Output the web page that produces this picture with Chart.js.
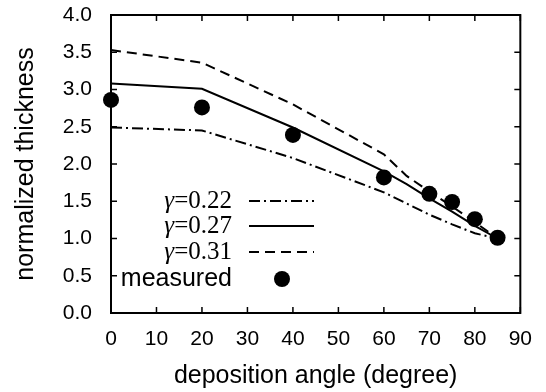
<!DOCTYPE html>
<html>
<head>
<meta charset="utf-8">
<script src="https://cdn.jsdelivr.net/npm/chart.js@4.4.1/dist/chart.umd.min.js"></script>
<style>
  html, body { margin: 0; padding: 0; background: #fff; }
  #wrap { width: 546px; height: 392px; }
</style>
</head>
<body>
<div id="wrap"><canvas id="c" width="546" height="392"></canvas></div>
<script>
// ---- data ----
const angles = [0, 20, 40, 60, 65, 70, 75, 80, 85];
const gamma022 = [2.49, 2.45, 2.08, 1.62, 1.47, 1.32, 1.19, 1.07, 1.00];
const gamma027 = [3.08, 3.01, 2.49, 1.90, 1.73, 1.54, 1.36, 1.17, 1.00];
const gamma031 = [3.53, 3.36, 2.80, 2.13, 1.84, 1.63, 1.43, 1.22, 1.00];
const measuredAngles = [0, 20, 40, 60, 70, 75, 80, 85];
const measured = [2.86, 2.76, 2.39, 1.82, 1.60, 1.49, 1.26, 1.01];
const seriesLabels = ['γ=0.22', 'γ=0.27', 'γ=0.31', 'measured'];
const xTitle = 'deposition angle (degree)';
const yTitle = 'normalized thickness';

const toXY = (xs, ys) => xs.map((x, i) => ({ x: x, y: ys[i] }));

const frameAndTicks = {
  id: 'frameAndTicks',
  afterDraw(chart) {
    const { ctx, chartArea: a, scales } = chart;
    ctx.save();
    ctx.strokeStyle = '#000';
    ctx.lineWidth = 2;
    ctx.strokeRect(a.left, a.top, a.right - a.left, a.bottom - a.top);
    ctx.lineWidth = 1.5;
    const L = 6;
    scales.x.ticks.forEach(t => {
      const px = scales.x.getPixelForValue(t.value);
      ctx.beginPath();
      ctx.moveTo(px, a.bottom); ctx.lineTo(px, a.bottom - L);
      ctx.moveTo(px, a.top); ctx.lineTo(px, a.top + L);
      ctx.stroke();
    });
    scales.y.ticks.forEach(t => {
      const py = scales.y.getPixelForValue(t.value);
      ctx.beginPath();
      ctx.moveTo(a.left, py); ctx.lineTo(a.left + L, py);
      ctx.moveTo(a.right, py); ctx.lineTo(a.right - L, py);
      ctx.stroke();
    });
    ctx.restore();
  }
};

const customLegend = {
  id: 'customLegend',
  afterDraw(chart) {
    const { ctx } = chart;
    const textRight = 232, lineX0 = 249, lineX1 = 314;
    const rowsY = [201, 226, 252, 279];
    ctx.save();
    ctx.textBaseline = 'middle';
    chart.data.datasets.forEach((ds, i) => {
      const y = rowsY[i];
      ctx.fillStyle = '#000';
      if (ds.showLine) {
        const label = ds.label; // "γ=0.xx"
        const greek = label.charAt(0);
        const rest = label.slice(1);
        ctx.font = '25px "Liberation Serif", "DejaVu Serif", serif';
        const wRest = ctx.measureText(rest).width;
        ctx.textAlign = 'right';
        ctx.fillText(rest, textRight, y);
        ctx.font = 'italic 25px "Liberation Serif", "DejaVu Serif", serif';
        ctx.fillText(greek, textRight - wRest, y);
        ctx.strokeStyle = ds.borderColor;
        ctx.lineWidth = ds.borderWidth;
        ctx.setLineDash(ds.borderDash || []);
        ctx.beginPath();
        ctx.moveTo(lineX0, y); ctx.lineTo(lineX1, y);
        ctx.stroke();
        ctx.setLineDash([]);
      } else {
        ctx.font = '25px "Liberation Sans", Arial, sans-serif';
        ctx.textAlign = 'right';
        ctx.fillText(ds.label, textRight, y);
        ctx.beginPath();
        ctx.arc(282, y, ds.pointRadius, 0, Math.PI * 2);
        ctx.fill();
      }
    });
    ctx.restore();
  }
};

new Chart(document.getElementById('c'), {
  type: 'scatter',
  data: {
    datasets: [
      { label: seriesLabels[0], data: toXY(angles, gamma022), showLine: true, borderColor: '#000', borderWidth: 2, borderDash: [11, 4, 2, 4], pointRadius: 0, fill: false },
      { label: seriesLabels[1], data: toXY(angles, gamma027), showLine: true, borderColor: '#000', borderWidth: 2, pointRadius: 0, fill: false },
      { label: seriesLabels[2], data: toXY(angles, gamma031), showLine: true, borderColor: '#000', borderWidth: 2, borderDash: [10, 6], pointRadius: 0, fill: false },
      { label: seriesLabels[3], data: toXY(measuredAngles, measured), showLine: false, clip: false, pointRadius: 8, pointBackgroundColor: '#000', pointBorderColor: '#000', pointBorderWidth: 0 }
    ]
  },
  options: {
    responsive: false,
    animation: false,
    layout: { padding: { left: 0, right: 24, top: 0, bottom: 0 } },
    plugins: { legend: { display: false }, tooltip: { enabled: false } },
    scales: {
      x: {
        type: 'linear', min: 0, max: 90,
        grid: { display: false, drawTicks: false },
        border: { display: true, color: '#000', width: 2 },
        ticks: { stepSize: 10, color: '#000', padding: 14, maxRotation: 0,
                 font: { family: '"Liberation Sans", Arial, sans-serif', size: 21 } },
        title: { display: true, text: xTitle, color: '#000', padding: { top: 0, bottom: 1 },
                 font: { family: '"Liberation Sans", Arial, sans-serif', size: 25 } },
        afterFit(s) { s.height = 79; }
      },
      y: {
        type: 'linear', min: 0, max: 4,
        grid: { display: false, drawTicks: false },
        border: { display: true, color: '#000', width: 2 },
        ticks: { stepSize: 0.5, color: '#000', padding: 19,
                 callback: v => Number(v).toFixed(1),
                 font: { family: '"Liberation Sans", Arial, sans-serif', size: 21 } },
        title: { display: true, text: yTitle, color: '#000', padding: { top: 11, bottom: 0 },
                 font: { family: '"Liberation Sans", Arial, sans-serif', size: 25 } },
        afterFit(s) { s.width = 111; s.paddingTop = 15; s.paddingBottom = 0; }
      }
    }
  },
  plugins: [frameAndTicks, customLegend]
});
</script>
</body>
</html>
